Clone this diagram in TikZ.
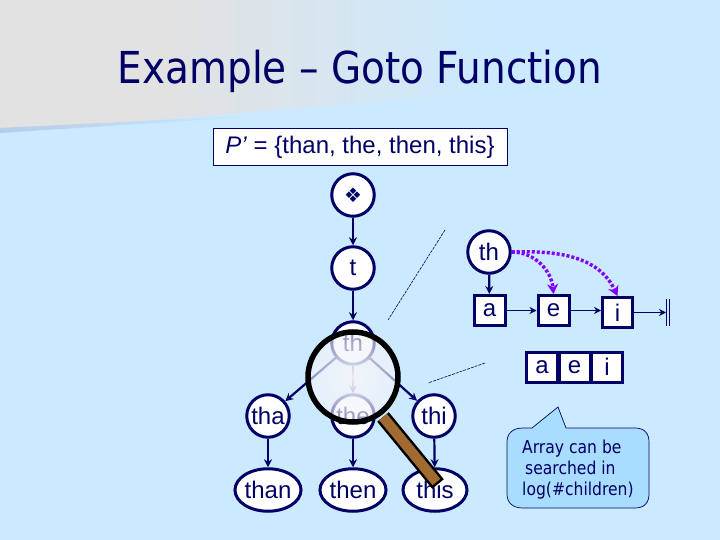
\documentclass[tikz,border=0pt]{standalone}
\usepackage{fontspec}
\usetikzlibrary{shapes.geometric,fadings,arrows.meta}
\setmainfont{Liberation Sans}
\newfontfamily\titlefont[FakeStretch=0.885]{DejaVu Sans}
\newfontfamily\tipfont[FakeStretch=0.875]{DejaVu Sans}
\newfontfamily\signfont{DejaVu Sans}
\definecolor{navy}{HTML}{000066}
\definecolor{sky}{HTML}{CBEAFF}
\definecolor{corner}{HTML}{E2E2E2}
\definecolor{tipfill}{HTML}{A8DDFF}
\definecolor{wood}{HTML}{A06A30}
\definecolor{failcol}{HTML}{8000FF}
\definecolor{lensfill}{HTML}{F4F5FA}
\tikzfading[name=lensfade, inner color=transparent!4, outer color=transparent!42]
\begin{document}
\begin{tikzpicture}[
    x=1pt, y=-1pt,
    state/.style={circle, draw=navy, line width=3pt, fill=white, minimum size=42.5pt, inner sep=0pt, text=navy, font=\fontsize{24}{26}\selectfont},
    leaf/.style={ellipse, draw=navy, line width=3pt, fill=white, minimum width=64pt, minimum height=42.5pt, inner sep=0pt, text=navy, font=\fontsize{24}{26}\selectfont},
    cell/.style={rectangle, draw=navy, line width=3pt, fill=white, minimum width=31pt, minimum height=30pt, inner sep=0pt, text=navy, font=\fontsize{24}{26}\selectfont},
    edge/.style={draw=navy, line width=2.2pt, -{Stealth[length=8pt, width=8pt]}},
    listedge/.style={draw=navy, line width=1.6pt, -{Stealth[length=7pt, width=7pt]}},
    fail/.style={draw=failcol, line width=3.4pt, dash pattern=on 3pt off 2pt, -{Stealth[length=10pt, width=11pt]}}
]
\useasboundingbox (0,0) rectangle (720,540);

% Background
\fill[sky] (0,0) rectangle (720,540);
\begin{scope}
\clip (0,0) -- (520,0) -- (520,90) -- (0,133) -- cycle;
\shade[left color=corner, right color=sky, shading=axis] (170,0) rectangle (500,140);
\fill[corner] (0,0) rectangle (171,140);
\end{scope}
\fill[sky!88!navy, path fading=east] (0,128) -- (250,115.5) -- (250,117) -- (0,133) -- cycle;

% Title
\node[text=navy, font=\titlefont\fontsize{44}{48}\selectfont] (title) at (360,71) {Example – Goto Function};
\node[draw=navy, fill=white, line width=0.8pt, minimum width=294pt, minimum height=37pt, inner sep=0pt, text=navy, font=\fontsize{24}{26}\selectfont] (pset) at (360,147) {\textit{P’} = \{than, the, then, this\}};

% Trie states
\node[state] (root) at (353,195) {\signfont\fontsize{20}{22}\selectfont ❖};
\node[state] (t) at (353,268) {t};
\node[state] (th) at (353,343) {th};
\node[state] (tha) at (268,416) {tha};
\node[state] (the) at (353,416) {the};
\node[state] (thi) at (434,416) {thi};
\node[leaf] (than) at (268,490) {than};
\node[leaf] (then) at (353,490) {then};
\node[leaf] (this) at (435,490) {this};

\draw[edge] (root) -- (t);
\draw[edge] (t) -- (th);
\draw[edge] (th) -- (tha);
\draw[edge] (th) -- (the);
\draw[edge] (th) -- (thi);
\draw[edge] (tha) -- (than);
\draw[edge] (the) -- (then);
\draw[edge] (thi) -- (this);

% Linked list of children
\node[state] (thr) at (489,252) {th};
\node[cell] (a) at (489.5,310.5) {a};
\node[cell] (e) at (553.5,310.5) {e};
\node[cell, minimum width=30pt] (i) at (617.5,312.5) {i};
\coordinate (nil) at (666,312.5);
\coordinate (nilta) at (666.5,299);
\coordinate (niltb) at (666.5,326);
\coordinate (nilba) at (669.5,299);
\coordinate (nilbb) at (669.5,326);

\draw[edge] (thr) -- (a);
\draw[listedge] (a) -- (e);
\draw[listedge] (e) -- (i.west |- e);
\draw[listedge] (i) -- (nil);
\draw[navy, line width=0.6pt] (nilta) -- (niltb);
\draw[navy, line width=0.6pt] (nilba) -- (nilbb);
\draw[fail] (thr.east) to[out=0, in=95] (e.north);
\draw[fail] (thr.east) to[out=2, in=115] (i.north);

% Array of children
\node[cell] (ca) at (542,367) {a};
\node[cell] (ce) at (574.5,367) {e};
\node[cell] (ci) at (607,367) {i};

% Zoom lines
\coordinate (za) at (445,230);
\coordinate (zb) at (388,320);
\coordinate (zc) at (485,363);
\coordinate (zd) at (428,383);
\draw[navy, line width=0.6pt, dash pattern=on 3pt off 1pt] (za) -- (zb);
\draw[navy, line width=0.6pt, dash pattern=on 3pt off 1pt] (zc) -- (zd);

% Magnifier
\coordinate (lens) at (353,377);
\coordinate (grip) at (383,417);
\coordinate (gripend) at (438,484);
\draw[black, line width=15pt] (grip) -- (gripend);
\draw[wood, line width=10pt, shorten >=2.5pt] (grip) -- (gripend);
\fill[lensfill, path fading=lensfade] (lens) circle (45);
\draw[black, line width=5.5pt] (lens) circle (45);

% Callout
\draw[navy, fill=tipfill, line width=0.7pt] (523,428) -- (532,428) -- (558,407) -- (566,428) -- (635,428)
    .. controls (644,428) and (649,433) .. (649,442) -- (649,494)
    .. controls (649,503) and (644,508) .. (635,508) -- (523,508)
    .. controls (513,508) and (507,503) .. (507,494) -- (507,442)
    .. controls (507,433) and (513,428) .. (523,428) -- cycle;
\node[anchor=north west, inner sep=0pt, align=left, text=navy, font=\tipfont\fontsize{17.8}{21}\selectfont] (tip) at (522,440)
    {Array can be\\\hspace*{3pt}searched in\\log(\#children)};
\end{tikzpicture}
\end{document}
